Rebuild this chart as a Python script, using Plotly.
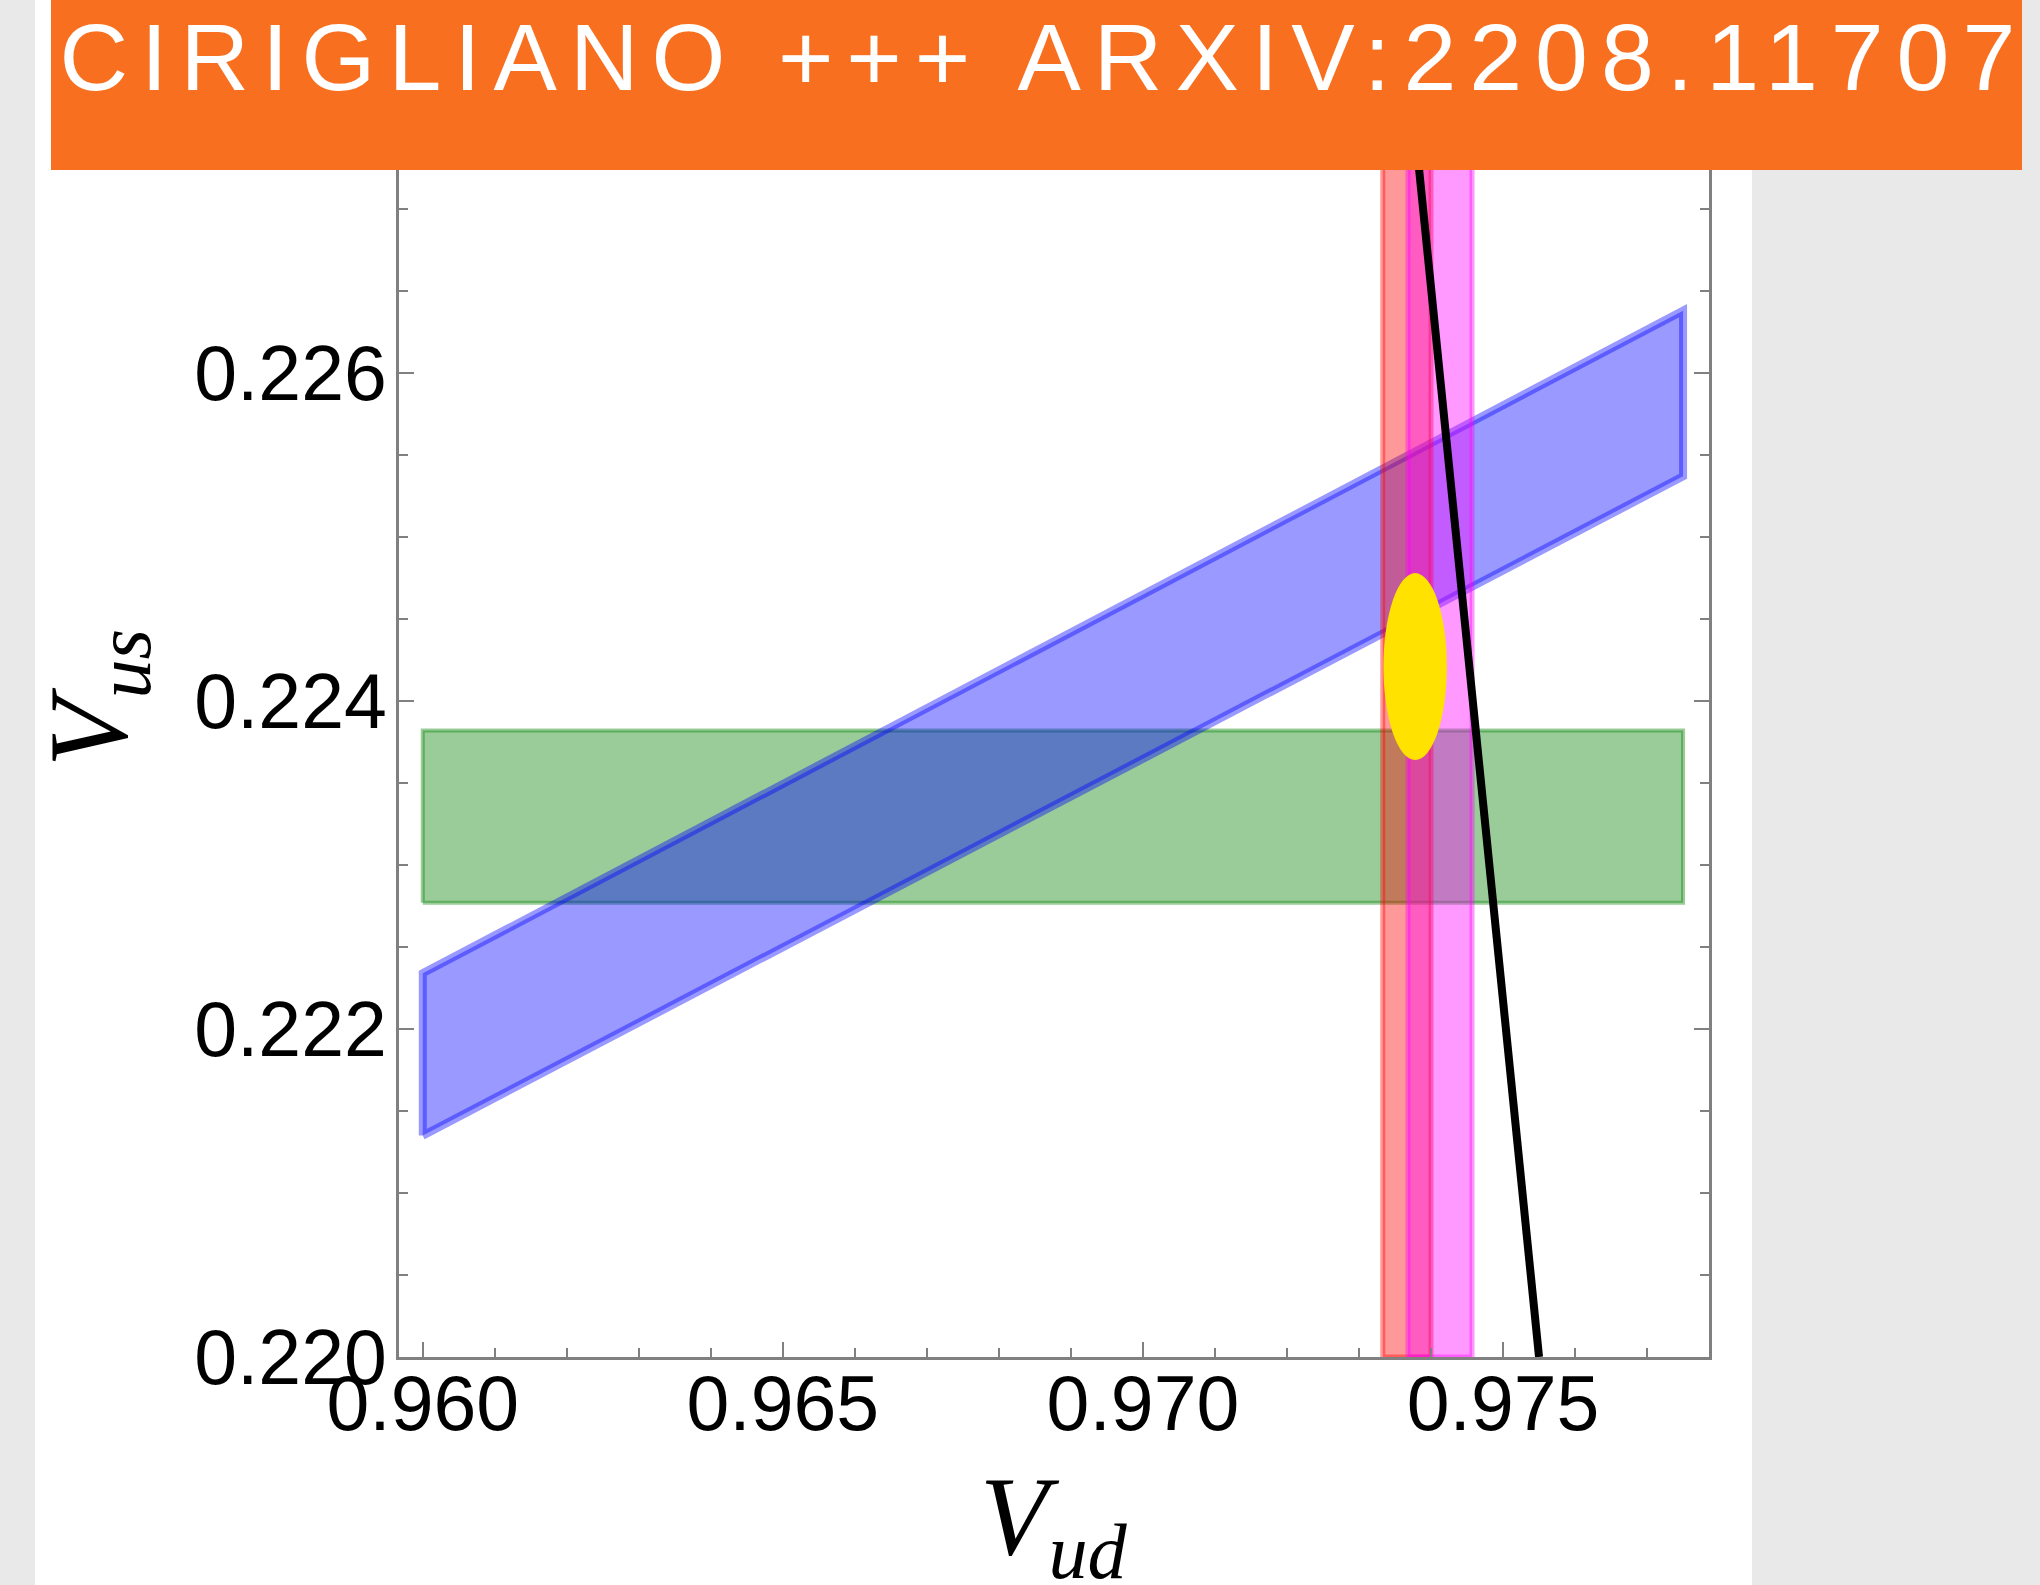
import plotly.graph_objects as go

# ---------------- data ----------------
vud_range = [0.95967, 0.97786]
vus_range = [0.2200, 0.2280]
vud_ticks = [0.960, 0.965, 0.970, 0.975]
vud_ticklabels = ["0.960", "0.965", "0.970", "0.975"]
vus_ticks = [0.220, 0.222, 0.224, 0.226]
vus_ticklabels = ["0.220", "0.222", "0.224", "0.226"]

# K_l3 : horizontal band in Vus
kl3_vud = [0.9600, 0.9775]
kl3_vus = [0.22277, 0.22382]

# K_l2 / pi_l2 : ratio band (corner values)
kl2_vud = [0.9600, 0.9775]
kl2_vus_upper = [0.22234, 0.22638]
kl2_vus_lower = [0.22135, 0.22537]

# superallowed 0+ -> 0+ : vertical band in Vud
beta00_vud = [0.97333, 0.97400]
# neutron decay : vertical band in Vud
neutron_vud = [0.97368, 0.97457]

# unitarity curve
unit_vud = [0.97366, 0.97550]
unit_vus = [0.2280, 0.2200]

# global fit ellipse
fit_center = [0.97378, 0.22421]
fit_half = [0.00044, 0.00057]

banner_text = "CIRIGLIANO +++ ARXIV:2208.11707"

# ---------------- figure ----------------
W, H = 2040, 1585
ML, MR, MT, MB = 399, 331, 45, 228
PW, PH = W - ML - MR, H - MT - MB


def px_x(p):
    return (p - ML) / PW


def px_y(p):
    return (H - MB - p) / PH


fig = go.Figure()

green = "rgba(0,128,0,0.4)"
blue = "rgba(0,0,255,0.4)"
red = "rgba(255,0,0,0.4)"
magenta = "rgba(255,0,255,0.4)"

fig.add_trace(go.Scatter(
    x=[kl3_vud[0], kl3_vud[1], kl3_vud[1], kl3_vud[0], kl3_vud[0]],
    y=[kl3_vus[0], kl3_vus[0], kl3_vus[1], kl3_vus[1], kl3_vus[0]],
    fill="toself", fillcolor=green, mode="lines",
    line=dict(color=green, width=4), hoverinfo="skip", showlegend=False))

fig.add_trace(go.Scatter(
    x=[kl2_vud[0], kl2_vud[1], kl2_vud[1], kl2_vud[0], kl2_vud[0]],
    y=[kl2_vus_lower[0], kl2_vus_lower[1], kl2_vus_upper[1], kl2_vus_upper[0], kl2_vus_lower[0]],
    fill="toself", fillcolor=blue, mode="lines",
    line=dict(color=blue, width=8), hoverinfo="skip", showlegend=False))

for band, col in ((beta00_vud, red), (neutron_vud, magenta)):
    fig.add_trace(go.Scatter(
        x=[band[0], band[1], band[1], band[0], band[0]],
        y=[vus_range[0], vus_range[0], vus_range[1], vus_range[1], vus_range[0]],
        fill="toself", fillcolor=col, mode="lines",
        line=dict(color=col, width=5), hoverinfo="skip", showlegend=False))

fig.add_trace(go.Scatter(
    x=unit_vud, y=unit_vus, mode="lines",
    line=dict(color="black", width=8), hoverinfo="skip", showlegend=False))

# fit ellipse
fig.add_shape(type="circle", xref="x", yref="y",
              x0=fit_center[0] - fit_half[0], x1=fit_center[0] + fit_half[0],
              y0=fit_center[1] - fit_half[1], y1=fit_center[1] + fit_half[1],
              fillcolor="#FFE200", line=dict(width=0), layer="above")

# white panel behind everything
fig.add_shape(type="rect", xref="paper", yref="paper",
              x0=px_x(35), x1=px_x(1752), y0=px_y(H + 10), y1=px_y(-10),
              fillcolor="white", line=dict(width=0), layer="below")

# orange banner
fig.add_shape(type="rect", xref="paper", yref="paper",
              x0=px_x(51), x1=px_x(2022), y0=px_y(170), y1=px_y(-10),
              fillcolor="#F8701F", line=dict(width=0), layer="above")

fig.add_annotation(text=banner_text, xref="paper", yref="paper",
                   x=px_x(1044), y=px_y(57), xanchor="center", yanchor="middle",
                   showarrow=False,
                   font=dict(family="Liberation Sans", size=95, color="white"))

# axis titles
fig.add_annotation(text="<i>V</i><sub><i>ud</i></sub>", xref="paper", yref="paper",
                   x=0.5, y=px_y(1524), xanchor="center", yanchor="middle",
                   showarrow=False,
                   font=dict(family="Liberation Serif", size=112, color="black"))
fig.add_annotation(text="<i>V</i><sub><i>us</i></sub>", xref="paper", yref="paper",
                   x=px_x(96), y=px_y(698), xanchor="center", yanchor="middle",
                   textangle=-90, showarrow=False,
                   font=dict(family="Liberation Serif", size=112, color="black"))

axis_common = dict(
    showgrid=False, zeroline=False, showline=True, linecolor="#808080",
    linewidth=2.5, mirror="ticks", ticks="inside", ticklen=15, tickwidth=2,
    tickcolor="#808080",
    tickfont=dict(family="Liberation Sans", size=77, color="black"),
)

fig.update_xaxes(range=vud_range, tickvals=vud_ticks, ticktext=vud_ticklabels,
                 ticklabelstandoff=-22,
                 minor=dict(dtick=0.001, tick0=0.960, ticks="inside", ticklen=9,
                            tickwidth=2, tickcolor="#808080"),
                 **axis_common)
fig.update_yaxes(range=vus_range, tickvals=vus_ticks, ticktext=vus_ticklabels,
                 ticklabelstandoff=-6,
                 minor=dict(dtick=0.0005, tick0=0.220, ticks="inside", ticklen=9,
                            tickwidth=2, tickcolor="#808080"),
                 **axis_common)

fig.update_layout(
    width=W, height=H,
    margin=dict(l=ML, r=MR, t=MT, b=MB, autoexpand=False),
    paper_bgcolor="#E9E9E9", plot_bgcolor="white",
    showlegend=False,
)

post = """
document.body.style.margin='0';
document.querySelectorAll('text.annotation-text').forEach(function(t){
  if (t.textContent.indexOf('CIRIGLIANO') >= 0) { t.style.letterSpacing = '13px'; }
});
"""
fig.write_html("out.html", post_script=post, config={"displayModeBar": False})
